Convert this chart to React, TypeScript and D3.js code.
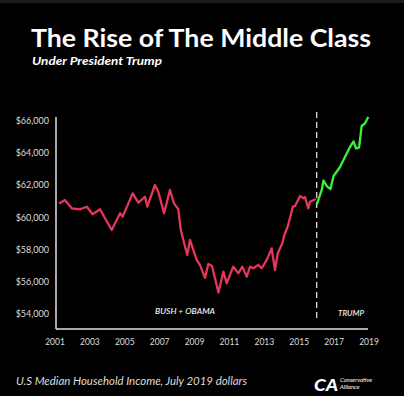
import React, { useEffect, useRef } from "react";
import * as d3 from "d3";

// Bush + Obama period
const redYears = [
  2001.23, 2001.57, 2001.96, 2002.43, 2002.82, 2003.16, 2003.58, 2004.25, 2004.73, 2004.88,
  2005.45, 2005.78, 2006.16, 2006.29, 2006.73, 2006.92, 2007.25, 2007.59, 2007.82, 2008.07,
  2008.21, 2008.58, 2008.74, 2009.12, 2009.31, 2009.6, 2009.79, 2010.0, 2010.37, 2010.65,
  2010.84, 2011.22, 2011.51, 2011.74, 2011.99, 2012.18, 2012.37, 2012.65, 2012.85, 2013.14,
  2013.42, 2013.61, 2013.77, 2014.03, 2014.15, 2014.37, 2014.63, 2014.76, 2015.05, 2015.23,
  2015.33, 2015.52, 2015.62, 2015.96,
];
const redValues = [
  60870, 61090, 60570, 60510, 60670, 60200, 60510, 59220, 60260, 60050,
  61500, 60920, 61290, 60670, 62020, 61600, 60260, 61710, 60880, 60510,
  59220, 57670, 58600, 57360, 57050, 56240, 57110, 56980, 55330, 56630,
  55910, 56940, 56530, 56940, 56320, 56940, 56840, 57050, 56840, 57360,
  58080, 56730, 57770, 58390, 58910, 59530, 60670, 60710, 61340, 61190,
  61270, 60570, 60980, 61150,
];

// Trump period
const greenYears = [
  2016.0, 2016.29, 2016.39, 2016.59, 2016.79, 2016.97, 2017.34, 2017.62, 2017.91, 2018.11,
  2018.26, 2018.43, 2018.58, 2018.77, 2018.96,
];
const greenValues = [
  60780, 61710, 62300, 61930, 61770, 62580, 63140, 63760, 64380, 64730,
  64290, 64350, 65690, 65860, 66250,
];

const yearTicks = [2001, 2003, 2005, 2007, 2009, 2011, 2013, 2015, 2017, 2019];
const incomeTicks = [54000, 56000, 58000, 60000, 62000, 64000, 66000];
const splitYear = 2016;

const W = 404;
const H = 396;

export default function App() {
  const ref = useRef<SVGSVGElement | null>(null);

  useEffect(() => {
    const svg = d3.select(ref.current);
    svg.selectAll("*").remove();

    const font = "Lato, 'DejaVu Sans', sans-serif";

    svg.append("rect").attr("width", W).attr("height", H).attr("fill", "#000");
    svg.append("rect").attr("width", W).attr("height", 3).attr("fill", "#1c1c1c");

    const x = d3.scaleLinear().domain([2001, 2019]).range([55, 369]);
    const y = d3.scaleLinear().domain([53000, 66250]).range([330, 117]);

    // title
    svg
      .append("text")
      .attr("x", 31)
      .attr("y", 47)
      .attr("textLength", 340)
      .attr("lengthAdjust", "spacingAndGlyphs")
      .style("font-family", font)
      .style("font-weight", 700)
      .style("font-size", "25px")
      .attr("fill", "#fff")
      .text("The Rise of The Middle Class");

    svg
      .append("text")
      .attr("x", 32)
      .attr("y", 65)
      .attr("textLength", 130)
      .attr("lengthAdjust", "spacingAndGlyphs")
      .style("font-family", font)
      .style("font-weight", 700)
      .style("font-style", "italic")
      .style("font-size", "11px")
      .attr("fill", "#fff")
      .text("Under President Trump");

    // axes lines
    svg
      .append("line")
      .attr("x1", x(2001) + 1)
      .attr("x2", x(2001) + 1)
      .attr("y1", y(66250))
      .attr("y2", y(53000) - 1)
      .attr("stroke", "#e0e0e0")
      .attr("stroke-width", 1.5);
    svg
      .append("line")
      .attr("x1", x(2001) + 1)
      .attr("x2", x(2019) - 1)
      .attr("y1", y(53000) - 1)
      .attr("y2", y(53000) - 1)
      .attr("stroke", "#e0e0e0")
      .attr("stroke-width", 1.5);

    svg
      .selectAll(".ytick")
      .data(incomeTicks)
      .enter()
      .append("text")
      .attr("class", "ytick")
      .attr("x", 49)
      .attr("y", (d) => y(d))
      .attr("dy", "0.35em")
      .attr("text-anchor", "end")
      .style("font-family", font)
      .style("font-size", "9px")
      .attr("fill", "#ddd")
      .text((d) => "$" + d3.format(",")(d));

    svg
      .selectAll(".xtick")
      .data(yearTicks)
      .enter()
      .append("text")
      .attr("class", "xtick")
      .attr("x", (d) => x(d))
      .attr("y", 345)
      .attr("text-anchor", "middle")
      .style("font-family", font)
      .style("font-size", "8.5px")
      .attr("fill", "#ddd")
      .text((d) => d);

    // split marker
    svg
      .append("line")
      .attr("x1", x(splitYear))
      .attr("x2", x(splitYear))
      .attr("y1", 112)
      .attr("y2", 320)
      .attr("stroke", "#ddd")
      .attr("stroke-width", 1.3)
      .attr("stroke-dasharray", "6,4");

    const line = d3
      .line<[number, number]>()
      .x((d) => x(d[0]))
      .y((d) => y(d[1]));

    const red = redYears.map((yr, i) => [yr, redValues[i]] as [number, number]);
    const green = greenYears.map((yr, i) => [yr, greenValues[i]] as [number, number]);

    svg
      .append("path")
      .attr("d", line(red))
      .attr("fill", "none")
      .attr("stroke", "#e8365a")
      .attr("stroke-width", 2.3)
      .attr("stroke-linejoin", "round");

    svg
      .append("path")
      .attr("d", line(green))
      .attr("fill", "none")
      .attr("stroke", "#3df03a")
      .attr("stroke-width", 2.3)
      .attr("stroke-linejoin", "round");

    // period labels
    svg
      .append("text")
      .attr("x", 155)
      .attr("y", 314)
      .attr("textLength", 60)
      .attr("lengthAdjust", "spacingAndGlyphs")
      .style("font-family", font)
      .style("font-style", "italic")
      .style("font-weight", 600)
      .style("font-size", "8px")
      .attr("fill", "#eee")
      .text("BUSH + OBAMA");
    svg
      .append("text")
      .attr("x", 338)
      .attr("y", 316)
      .attr("textLength", 26)
      .attr("lengthAdjust", "spacingAndGlyphs")
      .style("font-family", font)
      .style("font-style", "italic")
      .style("font-weight", 600)
      .style("font-size", "8px")
      .attr("fill", "#eee")
      .text("TRUMP");

    // footer
    svg
      .append("text")
      .attr("x", 16)
      .attr("y", 385)
      .attr("textLength", 231)
      .attr("lengthAdjust", "spacingAndGlyphs")
      .style("font-family", font)
      .style("font-style", "italic")
      .style("font-size", "11px")
      .attr("fill", "#ddd")
      .text("U.S Median Household Income, July 2019 dollars");

    svg
      .append("text")
      .attr("x", 314)
      .attr("y", 391)
      .attr("textLength", 24)
      .attr("lengthAdjust", "spacingAndGlyphs")
      .style("font-family", font)
      .style("font-weight", 900)
      .style("font-style", "italic")
      .style("font-size", "17px")
      .attr("fill", "#fff")
      .text("CA");
    svg
      .append("text")
      .attr("x", 340)
      .attr("y", 382)
      .style("font-family", font)
      .style("font-style", "italic")
      .style("font-size", "6px")
      .attr("fill", "#fff")
      .text("Conservative");
    svg
      .append("text")
      .attr("x", 340)
      .attr("y", 389)
      .style("font-family", font)
      .style("font-style", "italic")
      .style("font-size", "6px")
      .attr("fill", "#fff")
      .text("Alliance");
  }, []);

  return (
    <>
      <style>{"body{margin:0;background:#000}"}</style>
      <svg ref={ref} width={W} height={H} style={{ display: "block" }} />
    </>
  );
}
